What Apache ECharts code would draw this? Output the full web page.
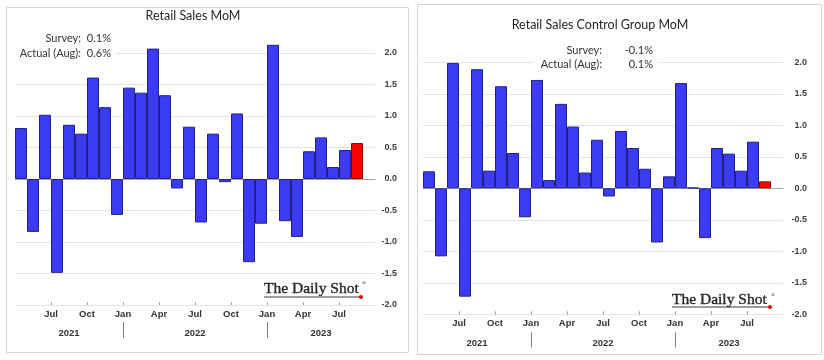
<!DOCTYPE html>
<html><head><meta charset="utf-8">
<script src="https://cdn.jsdelivr.net/npm/echarts@6/dist/echarts.min.js"></script>
<style>html,body{margin:0;padding:0;background:#fff}#c{width:824px;height:360px}</style>
</head><body><div id="c"></div>
<script>
// ---- data ----
const categories = ['2021-04','2021-05','2021-06','2021-07','2021-08','2021-09','2021-10','2021-11','2021-12',
  '2022-01','2022-02','2022-03','2022-04','2022-05','2022-06','2022-07','2022-08','2022-09','2022-10','2022-11','2022-12',
  '2023-01','2023-02','2023-03','2023-04','2023-05','2023-06','2023-07','2023-08','2023-09'];
const retailSales = [0.81,-0.84,1.02,-1.49,0.86,0.72,1.61,1.14,-0.57,1.45,1.37,2.07,1.33,-0.15,0.83,-0.69,0.72,-0.05,1.04,-1.32,-0.71,2.13,-0.67,-0.92,0.44,0.66,0.19,0.46,0.57];
const controlGroup = [0.27,-1.08,1.99,-1.72,1.89,0.28,1.62,0.56,-0.46,1.72,0.13,1.34,0.98,0.25,0.77,-0.13,0.91,0.64,0.31,-0.86,0.19,1.67,0.01,-0.79,0.64,0.55,0.28,0.74,0.11];
const monthNames = ['Jan','Feb','Mar','Apr','May','Jun','Jul','Aug','Sep','Oct','Nov','Dec'];
const tickMonths = ['Jan','Apr','Jul','Oct'];
const yearLabels = ['2021','2022','2023'];
const titles = ['Retail Sales MoM','Retail Sales Control Group MoM'];
const surveyLines = [
  [['Survey:','0.1%'],['Actual (Aug):','0.6%']],
  [['Survey:','-0.1%'],['Actual (Aug):','0.1%']]
];

// ---- derived ----
const monthOf = c => monthNames[+c.slice(5) - 1];
const tickPos = [];
categories.forEach((c, i) => { if (i > 0 && tickMonths.includes(monthOf(c))) tickPos.push(i); });
const sepPos = [];
categories.forEach((c, i) => { if (i > 0 && monthOf(c) === 'Jan') sepPos.push(i); });
const yearPos = yearLabels.map(y => {
  const idx = categories.map((c, i) => c.startsWith(y) ? i : -1).filter(i => i >= 0);
  return (idx[0] + idx[idx.length - 1] + 1) / 2;
});
const yearAt = v => { const k = yearPos.findIndex(p => Math.abs(p - v) < 0.01); return k >= 0 ? yearLabels[k] : ''; };

const BLUE = '#3b3bf6', BLUE_B = '#23237e', RED = '#ff0000', RED_B = '#8a0000';
function barData(vals) {
  return vals.map((v, i) => i === vals.length - 1
    ? { value: v, itemStyle: { color: RED, borderColor: RED_B } }
    : v);
}

const grids = [
  { left: 15, top: 21.5, width: 360, height: 283.5 },
  { left: 423, top: 30.8, width: 360, height: 283.5 }
];
const yMargins = [22, 24];
const labelFont = 'Liberation Sans';

const xAxis = [], yAxis = [], series = [];
[retailSales, controlGroup].forEach((vals, g) => {
  xAxis.push({
    type: 'category', gridIndex: g, data: categories,
    axisLine: { onZero: true, lineStyle: { color: '#a6a6a6', width: 1 } },
    axisTick: { show: false }, axisLabel: { show: false }, splitLine: { show: false }
  });
  xAxis.push({
    type: 'value', gridIndex: g, min: 0, max: categories.length, position: 'bottom', offset: 0,
    axisLine: { show: false }, splitLine: { show: false },
    axisTick: { show: true, customValues: tickPos, length: 3, inside: true, lineStyle: { color: '#a0a0a0' } },
    axisLabel: { customValues: tickPos, margin: 4, formatter: v => monthOf(categories[Math.round(v)]),
      color: '#333', fontFamily: labelFont, fontWeight: 'bold', fontSize: 9.5 }
  });
  xAxis.push({
    type: 'value', gridIndex: g, min: 0, max: categories.length, position: 'bottom', offset: g === 0 ? 17 : 18,
    axisLine: { show: false }, splitLine: { show: false },
    axisTick: { show: true, customValues: sepPos, length: g === 0 ? 16 : 15, lineStyle: { color: '#808080', width: 1 } },
    axisLabel: { customValues: yearPos, margin: 6, formatter: v => yearAt(v),
      color: '#333', fontFamily: labelFont, fontWeight: 'bold', fontSize: 9.5 }
  });
  yAxis.push({
    type: 'value', gridIndex: g, position: 'right', min: -2, max: 2.5, interval: 0.5,
    axisLine: { show: false }, axisTick: { show: false },
    splitLine: { show: true, showMaxLine: false, lineStyle: { color: '#e4e4e4', width: 1 } },
    axisLabel: { showMaxLabel: false, align: 'right', margin: yMargins[g], formatter: v => v.toFixed(1),
      color: '#404040', fontFamily: labelFont, fontWeight: 'bold', fontSize: 9 }
  });
  series.push({
    type: 'bar', xAxisIndex: g * 3, yAxisIndex: g, data: barData(vals),
    barCategoryGap: '0%', barWidth: '100%',
    itemStyle: { color: BLUE, borderColor: BLUE_B, borderWidth: 1 },
    emphasis: { disabled: true }, animation: false
  });
});

// ---- decorations ----
const graphic = [];
// frames
graphic.push({ type: 'rect', z: 0, shape: { x: 6.5, y: 7.5, width: 402, height: 345 }, style: { fill: 'none', stroke: '#d4d4d4', lineWidth: 1 } });
graphic.push({ type: 'rect', z: 0, shape: { x: 417.5, y: 4.5, width: 404, height: 350 }, style: { fill: 'none', stroke: '#d4d4d4', lineWidth: 1 } });
// titles
const titlePos = [[193, 16], [600, 25]];
titles.forEach((t, g) => graphic.push({ type: 'text', z: 100, x: titlePos[g][0], y: titlePos[g][1],
  style: { text: t, font: '12.5px Lato', fill: '#262626', textAlign: 'center', textVerticalAlign: 'middle' } }));
// survey boxes
const boxes = [{ x: 14, y: 30, w: 102, h: 31, colon: 81, val: 111, y1: 38, y2: 53 },
               { x: 534, y: 42, w: 126, h: 30, colon: 602, val: 653, y1: 50, y2: 64 }];
boxes.forEach((b, g) => {
  graphic.push({ type: 'rect', z: 90, shape: { x: b.x, y: b.y, width: b.w, height: b.h }, style: { fill: '#fff' } });
  surveyLines[g].forEach((ln, k) => {
    const yy = k === 0 ? b.y1 : b.y2;
    graphic.push({ type: 'text', z: 100, x: b.colon, y: yy, style: { text: ln[0], font: '11px Lato', fill: '#333', textAlign: 'right', textVerticalAlign: 'middle' } });
    graphic.push({ type: 'text', z: 100, x: b.val, y: yy, style: { text: ln[1], font: '11px Lato', fill: '#333', textAlign: 'right', textVerticalAlign: 'middle' } });
  });
});
// logos
const logos = [{ x: 264, y: 288.5, ux: 361, uy: 297 }, { x: 672, y: 300, ux: 770, uy: 307 }];
logos.forEach(l => {
  graphic.push({ type: 'text', z: 100, x: l.x, y: l.y, style: { text: 'The Daily Shot', font: '15.5px "Liberation Serif"', fill: '#262626', textAlign: 'left', textVerticalAlign: 'middle', stroke: '#262626', lineWidth: 0.35 } });
  graphic.push({ type: 'text', z: 100, x: l.ux + 3, y: l.y - 5, style: { text: '®', font: '6px "Liberation Serif"', fill: '#333', textAlign: 'center', textVerticalAlign: 'middle' } });
  graphic.push({ type: 'line', z: 100, shape: { x1: l.x, y1: l.uy, x2: l.ux, y2: l.uy }, style: { stroke: '#3a3a3a', lineWidth: 1.2 } });
  graphic.push({ type: 'circle', z: 101, shape: { cx: l.ux, cy: l.uy, r: 2 }, style: { fill: '#e00000' } });
});

const chart = echarts.init(document.getElementById('c'), null, { renderer: 'canvas' });
chart.setOption({
  animation: false,
  backgroundColor: '#ffffff',
  grid: grids, xAxis, yAxis, series, graphic
});
</script></body></html>
